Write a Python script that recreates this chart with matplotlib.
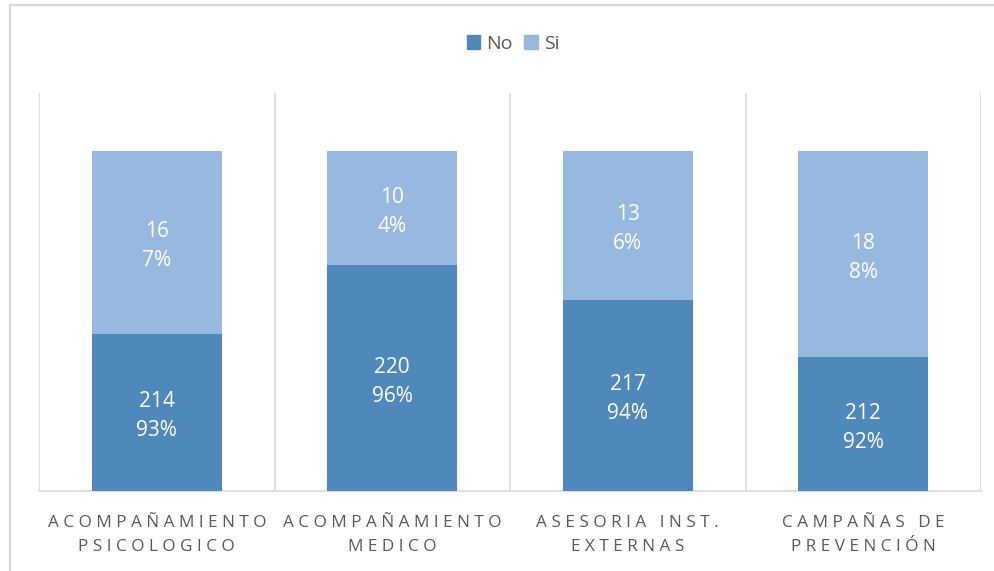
import matplotlib
matplotlib.use("Agg")
import matplotlib.pyplot as plt
import matplotlib.transforms as mtransforms
from matplotlib.patches import Rectangle, Patch

plt.rcParams['font.family'] = ['Open Sans', 'DejaVu Sans']

# ---- data ----
categories = ["ACOMPAÑAMIENTO\nPSICOLOGICO", "ACOMPAÑAMIENTO\nMEDICO",
              "ASESORIA INST.\nEXTERNAS", "CAMPAÑAS DE\nPREVENCIÓN"]
no_counts = [214, 220, 217, 212]
no_pct = [93, 96, 94, 92]
si_counts = [16, 10, 13, 18]
si_pct = [7, 4, 6, 8]
# visual segment heights as drawn in the reference (share of bar)
no_height = [0.462, 0.666, 0.563, 0.395]
si_height = [0.538, 0.334, 0.437, 0.605]

NO_COLOR = "#4F89BB"
SI_COLOR = "#97B9E0"
GRID = "#D9D9D9"
TXT = "#595959"


def spaced(s):
    lines = []
    for line in s.split("\n"):
        words = [" ".join(list(w)) for w in line.split(" ")]
        lines.append("   ".join(words))
    return "\n".join(lines)


fig = plt.figure(figsize=(9.95, 5.71), dpi=100)
ax = fig.add_axes([39 / 995, 1 - 491 / 571, (981 - 39) / 995, (491 - 93) / 571])

x = list(range(len(categories)))
ax.bar(x, no_height, width=0.55, color=NO_COLOR, zorder=3)
ax.bar(x, si_height, bottom=no_height, width=0.55, color=SI_COLOR, zorder=3)

lab_tr = mtransforms.offset_copy(ax.transData, fig=fig, x=0, y=-4, units="dots")
for i in x:
    ax.text(i, no_height[i] / 2, f"{no_counts[i]}\n{no_pct[i]}%", ha="center", va="center",
            color="white", fontsize=15, linespacing=1.5, zorder=4, transform=lab_tr)
    ax.text(i, no_height[i] + si_height[i] / 2, f"{si_counts[i]}\n{si_pct[i]}%", ha="center",
            va="center", color="white", fontsize=15, linespacing=1.5, zorder=4, transform=lab_tr)

ax.set_xlim(-0.5, len(categories) - 0.5)
ax.set_ylim(0, 1.1706)
for b in [i - 0.5 for i in range(len(categories) + 1)]:
    ax.axvline(b, color=GRID, lw=1.2, zorder=1)
for s in ["top", "left", "right"]:
    ax.spines[s].set_visible(False)
ax.spines["bottom"].set_color(GRID)
ax.spines["bottom"].set_linewidth(1.2)
ax.set_yticks([])
ax.set_xticks(x)
ax.set_xticklabels([spaced(c) for c in categories], fontsize=12.3, color=TXT, linespacing=1.7)
ax.tick_params(axis="x", length=0, pad=17)

handles = [Patch(color=NO_COLOR, label="No"), Patch(color=SI_COLOR, label="Si")]
fig.legend(handles=handles, loc="center", bbox_to_anchor=(513 / 995, 1 - 44 / 571), ncol=2,
           frameon=False, fontsize=14, handlelength=0.7, handleheight=0.7, handletextpad=0.3,
           columnspacing=0.6, labelcolor=TXT)

border = Rectangle((10 / 995, -0.1), 1.2, 1.1 - 5 / 571, transform=fig.transFigure,
                   fill=False, edgecolor=GRID, lw=1.6, clip_on=False)
fig.patches.append(border)

fig.savefig("out.png", dpi=100)
